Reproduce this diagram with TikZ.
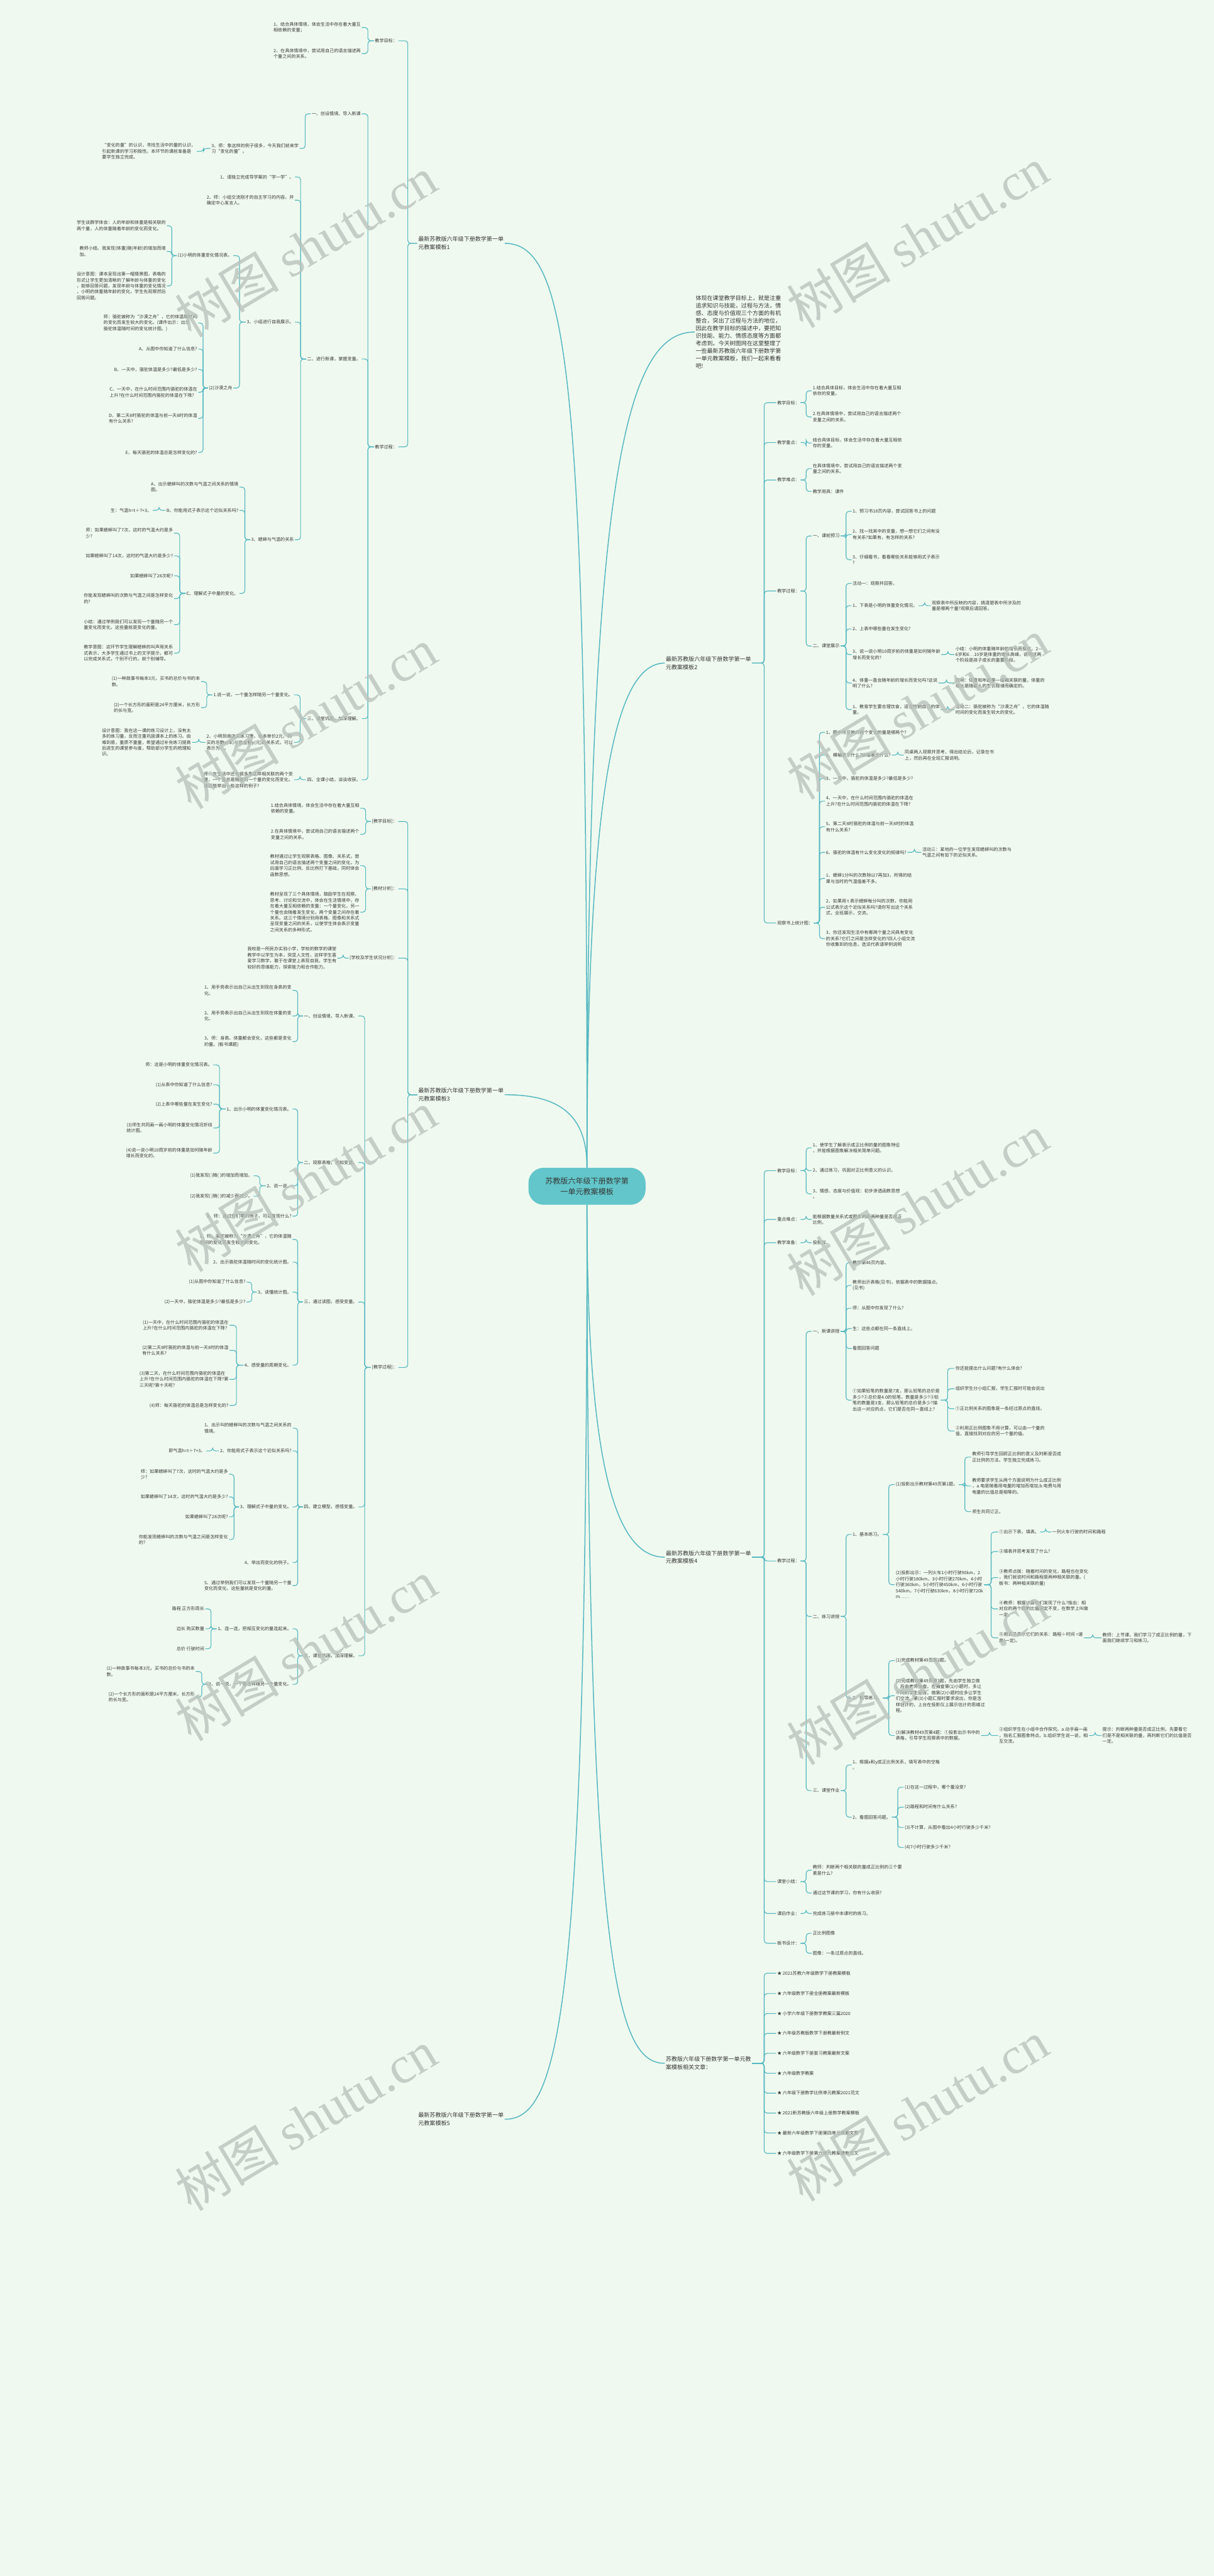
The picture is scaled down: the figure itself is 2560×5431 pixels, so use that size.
\documentclass[tikz,border=0pt]{standalone}
\usepackage{fontspec}
\setmainfont{Noto Sans CJK SC}
\newfontfamily\wmfont{Liberation Serif}
\usetikzlibrary{calc}
\definecolor{bg}{RGB}{240,249,239}
\definecolor{ln}{RGB}{84,184,193}
\definecolor{ctr}{RGB}{98,198,202}
\definecolor{tx}{RGB}{55,55,55}
\definecolor{wm}{RGB}{186,194,188}
\tikzset{
 every node/.style={inner sep=2pt, text=tx, align=left, font=\fontsize{9.4}{12.5}\selectfont},
 tR/.style={anchor=west},
 tL/.style={anchor=east},
 link/.style={draw=ln, line width=1.5pt, rounded corners=6pt},
 mainln/.style={draw=ln, line width=2pt},
 ttl/.style={font=\fontsize{12}{17}\selectfont},
 wmk/.style={rotate=31, text=wm, opacity=0.8, font=\fontsize{110}{110}\selectfont},
}
\newcommand\kR[5]{\node[tR] (#2) at (#3,#4) {#5}; \draw[link] (#1.east) -- ($(#1.east)!0.5!(#1.east-|#2.west)$) |- (#2.west);}
\newcommand\kL[5]{\node[tL] (#2) at (#3,#4) {#5}; \draw[link] (#1.west) -- ($(#1.west)!0.5!(#1.west-|#2.east)$) |- (#2.east);}
\begin{document}
\begin{tikzpicture}[x=1pt,y=-1pt]
\fill[bg] (0,0) rectangle (2560,5431);
\useasboundingbox (0,0) rectangle (2560,5431);

% center
\node[fill=ctr, rounded corners=32pt, minimum width=247pt, minimum height=78pt, align=center, font=\fontsize{16}{22}\selectfont] (c) at (1238,2501) {苏教版六年级下册数学第\\一单元教案模板};

% intro
\node[tR, font=\fontsize{12}{16}\selectfont] (intro) at (1465,700) {体现在课堂教学目标上，就是注重\\追求知识与技能，过程与方法，情\\感、态度与价值观三个方面的有机\\整合，突出了过程与方法的地位，\\因此在教学目标的描述中，要把知\\识技能、能力、情感态度等方面都\\考虑到。今天树图网在这里整理了\\一些最新苏教版六年级下册数学第\\一单元教案模板，我们一起来看看\\吧!};

% titles
\node[tR, ttl] (t1) at (880,513) {最新苏教版六年级下册数学第一单\\元教案模板1};
\node[tR, ttl] (t2) at (1402,1398) {最新苏教版六年级下册数学第一单\\元教案模板2};
\node[tR, ttl] (t3) at (880,2308) {最新苏教版六年级下册数学第一单\\元教案模板3};
\node[tR, ttl] (t4) at (1402,3283) {最新苏教版六年级下册数学第一单\\元教案模板4};
\node[tR, ttl] (rel) at (1402,4350) {苏教版六年级下册数学第一单元教\\案模板相关文章：};
\node[tR, ttl] (t5) at (880,4468) {最新苏教版六年级下册数学第一单\\元教案模板5};

\draw[mainln] (c.north) .. controls (1238,800) and (1200,513) .. (t1.east);
\draw[mainln] (c.north) .. controls (1238,1000) and (1320,700) .. (intro.west);
\draw[mainln] (c.north) .. controls (1238,1650) and (1300,1398) .. (t2.west);
\draw[mainln] (c.north) .. controls (1238,2350) and (1180,2308) .. (t3.east);
\draw[mainln] (c.south) .. controls (1238,3100) and (1300,3283) .. (t4.west);
\draw[mainln] (c.south) .. controls (1238,4150) and (1300,4350) .. (rel.west);
\draw[mainln] (c.south) .. controls (1238,4250) and (1180,4468) .. (t5.east);

% ===== tree 1 =====
\kL{t1}{a1}{840}{86}{教学目标：}
\kL{a1}{a11}{763}{58}{1、结合具体情境，体会生活中存在着大量互\\相依赖的变量；}
\kL{a1}{a12}{763}{113}{2、在具体情境中，尝试用自己的语言描述两\\个量之间的关系。}
\kL{t1}{a2}{840}{942}{教学过程：}
\kL{a2}{a21}{763}{240}{一、创设情境、导入新课}
\kL{a21}{a213}{632}{313}{3、师：象这样的例子很多，今天我们就来学\\习“变化的量”。}
\kL{a213}{a2131}{415}{319}{“变化的量”的认识，寻找生活中的量的认识，\\引起新课的学习积极性。本环节的课前准备是\\要学生独立完成。}
\kL{a2}{a22}{763}{757}{二、进行新课，掌握变量。}
\kL{a22}{a221}{622}{373}{1、请独立完成导学案的“学一学”。}
\kL{a22}{a222}{622}{422}{2、师：小组交流刚才的自主学习的内容。并\\确定中心发言人。}
\kL{a22}{a223}{622}{679}{3、小组进行自我展示。}
\kL{a223}{b1}{492}{539}{(1)小明的体重变化情况表。}
\kL{b1}{b11}{352}{476}{学生谈群学体会：人的年龄和体重是相关联的\\两个量，人的体重随着年龄的变化而变化。}
\kL{b1}{b12}{352}{530}{教师小结。我发现(体重)随(年龄)的增加而增\\加。}
\kL{b1}{b13}{352}{603}{设计意图：课本呈现出第一幅情景图，表格的\\形式让学生更加清晰的了解年龄与体重的变化\\，能够回答问题，发现年龄与体重的变化情况\\，小明的体重随年龄的变化，学生先观察然后\\回答问题。}
\kL{a223}{b2}{492}{818}{(2)沙漠之舟}
\kL{b2}{b21}{418}{681}{师：骆驼被称为“沙漠之舟”，它的体温随时间\\的变化而发生较大的变化。(课件出示：出示\\骆驼体温随时间的变化统计图。)}
\kL{b2}{b22}{418}{736}{A、从图中你知道了什么信息?}
\kL{b2}{b23}{418}{779}{B、一天中，骆驼体温是多少?最低是多少?}
\kL{b2}{b24}{418}{827}{C、一天中，在什么时间范围内骆驼的体温在\\上升?在什么时间范围内骆驼的体温在下降?}
\kL{b2}{b25}{418}{882}{D、第二天8时骆驼的体温与前一天8时的体温\\有什么关系?}
\kL{b2}{b26}{418}{954}{E、每天骆驼的体温总是怎样变化的?}
\kL{a22}{a224}{622}{1138}{3、蟋蟀与气温的关系}
\kL{a224}{b3}{505}{1027}{A、出示蟋蟀叫的次数与气温之间关系的情境\\图。}
\kL{a224}{b4}{505}{1076}{B、你能用式子表示这个近似关系吗?}
\kL{b4}{b41}{322}{1076}{生：气温h=t÷7+3。}
\kL{a224}{b5}{505}{1251}{C、理解式子中量的变化。}
\kL{b5}{b51}{367}{1124}{师：如果蟋蟀叫了7次，这时的气温大约是多\\少?}
\kL{b5}{b52}{367}{1172}{如果蟋蟀叫了14次，这时的气温大约是多少?}
\kL{b5}{b53}{367}{1214}{如果蟋蟀叫了28次呢?}
\kL{b5}{b54}{367}{1262}{你能发现蟋蟀叫的次数与气温之间是怎样变化\\的?}
\kL{b5}{b55}{367}{1317}{小结：通过举例我们可以发现一个量随另一个\\量变化而变化，这些量就是变化的量。}
\kL{b5}{b56}{367}{1377}{教学意图：这环节学生理解蟋蟀的叫声用关系\\式表示，大多学生通过书上的文字提示，都可\\以完成关系式，个别不行的，就个别辅导。}
\kL{a2}{a23}{763}{1515}{三、课堂巩固，加深理解。}
\kL{a23}{a231}{620}{1465}{1.说一说，一个量怎样随另一个量变化。}
\kL{a231}{b6}{424}{1437}{(1)一种故事书每本3元，买书的总价与书的本\\数。}
\kL{a231}{b7}{424}{1492}{(2)一个长方形的面积是24平方厘米，长方形\\的长与宽。}
\kL{a23}{a232}{620}{1565}{2、小明到商店买练习簿，每本单价2元，购\\买的总数x(本)与总金额y(元)的关系式，可以\\表示为：。}
\kL{a232}{b8}{405}{1565}{设计意图：我在这一课的练习设计上，没有太\\多的练习量，反而注重巩固课本上的练习。由\\难到易，重质不重量，希望通过补充练习提高\\后进生的课堂参与度，帮助部分学生的梳理知\\识。}
\kL{a2}{a24}{763}{1644}{四、全课小结，谈谈收获。}
\kL{a24}{a241}{620}{1644}{师：在生活中还有很多象这样相关联的两个变\\量，一个量总是随着另一个量的变化而变化，\\谁还能举出一些这样的例子?}

% ===== tree 3 =====
\kL{t3}{d1}{840}{1732}{[教学目标]：}
\kL{d1}{d11}{760}{1704}{1.结合具体情境，体会生活中存在着大量互相\\依赖的变量。}
\kL{d1}{d12}{760}{1759}{2.在具体情境中，尝试用自己的语言描述两个\\变量之间的关系。}
\kL{t3}{d2}{840}{1874}{[教材分析]：}
\kL{d2}{d21}{760}{1825}{教材通过让学生观察表格、图像、关系式，尝\\试用自己的语言描述两个变量之间的变化，为\\后面学习正比例、反比例打下基础，同时体会\\函数思想。}
\kL{d2}{d22}{760}{1923}{教材呈现了三个具体情境，鼓励学生在观察、\\思考、讨论和交流中，体会在生活情境中，存\\在着大量互相依赖的变量：一个量变化，另一\\个量也会随着发生变化，两个变量之间存在着\\关系。这三个情境分别用表格、图像和关系式\\呈现变量之间的关系，以使学生体会表示变量\\之间关系的多种形式。}
\kL{t3}{d3}{840}{2020}{[学校及学生状况分析]：}
\kL{d3}{d31}{712}{2020}{我校是一所民办实验小学，学校的数学的课堂\\教学中以学生为本，突显人文性，这样学生喜\\爱学习数学，敢于在课堂上表现自我，学生有\\较好的思维能力，探索能力和合作能力。}
\kL{t3}{d4}{840}{2883}{[教学过程]：}
\kL{d4}{e1}{756}{2142}{一、创设情境，导入新课。}
\kL{e1}{e11}{617}{2088}{1、用手势表示出自己从出生到现在身高的变\\化。}
\kL{e1}{e12}{617}{2142}{2、用手势表示出自己从出生到现在体重的变\\化。}
\kL{e1}{e13}{617}{2196}{3、师：身高、体重都会变化，这些都是变化\\的量。(板书课题)}
\kL{d4}{e2}{756}{2451}{二、观察表格，感知变量。}
\kL{e2}{e21}{617}{2338}{1、出示小明的体重变化情况表。}
\kL{e21}{e211}{450}{2245}{师：这是小明的体重变化情况表。}
\kL{e21}{e212}{450}{2287}{(1)从表中你知道了什么信息?}
\kL{e21}{e213}{450}{2328}{(2)上表中哪些量在发生变化?}
\kL{e21}{e214}{450}{2378}{(3)师生共同画一画小明的体重变化情况折线\\统计图。}
\kL{e21}{e215}{450}{2431}{(4)说一说小明10周岁前的体重是如何随年龄\\增长而变化的。}
\kL{e2}{e22}{617}{2500}{2、说一说。}
\kL{e22}{e221}{535}{2479}{(1)我发现( )随( )的增加而增加。}
\kL{e22}{e222}{535}{2522}{(2)我发现( )随( )的减少而减少。}
\kL{e2}{e23}{617}{2564}{3、师：通过你们举的例子，可以发现什么?}
\kL{d4}{e3}{756}{2745}{三、通过读图，感受变量。}
\kL{e3}{e31}{617}{2613}{1、师：骆驼被称为“沙漠之舟”，它的体温随\\时间的变化而发生较大的变化。}
\kL{e3}{e32}{617}{2661}{2、出示骆驼体温随时间的变化统计图。}
\kL{e3}{e33}{617}{2724}{3、读懂统计图。}
\kL{e33}{e331}{520}{2703}{(1)从图中你知道了什么信息?}
\kL{e33}{e332}{520}{2745}{(2)一天中，骆驼体温是多少?最低是多少?}
\kL{e3}{e34}{617}{2878}{4、感受量的周期变化。}
\kL{e34}{e341}{484}{2794}{(1)一天中，在什么时间范围内骆驼的体温在\\上升?在什么时间范围内骆驼的体温在下降?}
\kL{e34}{e342}{484}{2847}{(2)第二天8时骆驼的体温与前一天8时的体温\\有什么关系?}
\kL{e34}{e343}{484}{2908}{(3)第二天，在什么时间范围内骆驼的体温在\\上升?在什么时间范围内骆驼的体温在下降?第\\三天呢?第十天呢?}
\kL{e34}{e344}{484}{2963}{(4)师：每天骆驼的体温总是怎样变化的?}
\kL{d4}{e4}{756}{3177}{四、建立模型，感悟变量。}
\kL{e4}{e41}{617}{3011}{1、出示叫的蟋蟀叫的次数与气温之间关系的\\情境。}
\kL{e4}{e42}{617}{3059}{2、你能用式子表示这个近似关系吗?}
\kL{e42}{e421}{435}{3059}{即气温h=t÷7+3。}
\kL{e4}{e43}{617}{3177}{3、理解式子中量的变化。}
\kL{e43}{e431}{483}{3108}{师：如果蟋蟀叫了7次，这时的气温大约是多\\少?}
\kL{e43}{e432}{483}{3156}{如果蟋蟀叫了14次，这时的气温大约是多少?}
\kL{e43}{e433}{483}{3198}{如果蟋蟀叫了28次呢?}
\kL{e43}{e434}{483}{3246}{你能发现蟋蟀叫的次数与气温之间是怎样变化\\的?}
\kL{e4}{e44}{617}{3294}{4、举出而变化的例子。}
\kL{e4}{e45}{617}{3343}{5、通过举例我们可以发现一个量随另一个量\\变化而变化，这些量就是变化的量。}
\kL{d4}{e5}{756}{3491}{五、课堂巩固，加深理解。}
\kL{e5}{e51}{617}{3434}{1、连一连，把相互变化的量连起来。}
\kL{e51}{e511}{433}{3392}{路程 正方形周长}
\kL{e51}{e512}{433}{3434}{边长 购买数量}
\kL{e51}{e513}{433}{3476}{总价 行驶时间}
\kL{e5}{e52}{617}{3551}{2、说一说，一个量怎样随另一个量变化。}
\kL{e52}{e521}{413}{3524}{(1)一种故事书每本3元，买书的总价与书的本\\数。}
\kL{e52}{e522}{413}{3578}{(2)一个长方形的面积是24平方厘米，长方形\\的长与宽。}

% ===== tree 2 =====
\kR{t2}{f1}{1637}{849}{教学目标：}
\kR{f1}{f11}{1712}{824}{1.结合具体目标，体会生活中存在着大量互相\\依存的变量。}
\kR{f1}{f12}{1712}{879}{2.在具体情境中，尝试用自己的语言描述两个\\变量之间的关系。}
\kR{t2}{f2}{1637}{933}{教学重点：}
\kR{f2}{f21}{1712}{934}{结合具体目标，体会生活中存在着大量互相依\\存的变量。}
\kR{t2}{f3}{1637}{1012}{教学难点：}
\kR{f3}{f31}{1712}{988}{在具体情境中，尝试用自己的语言描述两个变\\量之间的关系。}
\kR{f3}{f32}{1712}{1036}{教学用具：课件}
\kR{t2}{f4}{1637}{1246}{教学过程：}
\kR{f4}{g1}{1712}{1130}{一、课前预习}
\kR{g1}{g11}{1796}{1078}{1、预习书18页内容，尝试回答书上的问题}
\kR{g1}{g12}{1796}{1127}{2、找一找其中的变量，想一想它们之间有没\\有关系?如果有，有怎样的关系?}
\kR{g1}{g13}{1796}{1180}{3、仔细看书，看看哪些关系能够用式子表示\\?}
\kR{f4}{g2}{1712}{1362}{二、课堂展示}
\kR{g2}{g21}{1796}{1230}{活动一：观察并回答。}
\kR{g2}{g22}{1796}{1277}{1、下表是小明的体重变化情况。}
\kR{g22}{g221}{1963}{1277}{观察表中所反映的内容，搞清楚表中所涉及的\\量是哪两个量?观察后请回答。}
\kR{g2}{g23}{1796}{1326}{2、上表中哪些量在发生变化?}
\kR{g2}{g24}{1796}{1380}{3、说一说小明10周岁前的体重是如何随年龄\\增长而变化的?}
\kR{g24}{g241}{2013}{1380}{小结：小明的体重随年龄的增长而变化。2—\\6岁和6…10岁是体重的增长高峰，说明这两\\个阶段是孩子成长的重要阶段。}
\kR{g2}{g25}{1796}{1440}{4、体重一直会随年龄的增长而变化吗?这说\\明了什么?}
\kR{g25}{g251}{2013}{1440}{说明：体重和年龄是一组相关联的量。体重的\\增长是随着人的生长规律而确定的。}
\kR{g2}{g26}{1796}{1496}{1、教育学生要合理饮食，适当控制自己的体\\重。}
\kR{g26}{g261}{2013}{1496}{活动二：骆驼被称为“沙漠之舟”，它的体温随\\时间的变化而发生较大的变化。}
\kR{t2}{f5}{1637}{1946}{观察书上统计图：}
\kR{f5}{h1}{1740}{1544}{1、图中所反映的两个变化的量是哪两个?}
\kR{f5}{h2}{1740}{1592}{2、横轴表示什么?纵轴表示什么?}
\kR{h2}{h21}{1906}{1592}{同桌两人观察并思考，得出结论后，记录在书\\上，然后再在全班汇报说明。}
\kR{f5}{h3}{1740}{1641}{3、一天中，骆驼的体温是多少?最低是多少?}
\kR{f5}{h4}{1740}{1689}{4、一天中，在什么时间范围内骆驼的体温在\\上升?在什么时间范围内骆驼的体温在下降?}
\kR{f5}{h5}{1740}{1743}{5、第二天8时骆驼的体温与前一天8时的体温\\有什么关系?}
\kR{f5}{h6}{1740}{1797}{6、骆驼的体温有什么变化变化的规律吗?}
\kR{h6}{h61}{1943}{1797}{活动三：某地的一位学生发现蟋蟀叫的次数与\\气温之间有如下的近似关系。}
\kR{f5}{h7}{1740}{1852}{1、蟋蟀1分叫的次数除以7再加3，所得的结\\果与当时的气温值差不多。}
\kR{f5}{h8}{1740}{1913}{2、如果用 t 表示蟋蟀每分叫的次数，你能用\\公式表示这个近似关系吗?请你写出这个关系\\式，全班展示，交流。}
\kR{f5}{h9}{1740}{1979}{3、你还发现生活中有哪两个量之间具有变化\\的关系?它们之间是怎样变化的?四人小组交流\\你收集到的信息，选派代表请举例说明}

% ===== tree 4 =====
\kR{t4}{p1}{1637}{2468}{教学目标：}
\kR{p1}{p11}{1712}{2420}{1、使学生了解表示成正比例的量的图象特征\\，并能根据图象解决相关简单问题。}
\kR{p1}{p12}{1712}{2468}{2、通过练习，巩固对正比例意义的认识。}
\kR{p1}{p13}{1712}{2517}{3、情感、态度与价值观：初步渗透函数思想\\。}
\kR{t4}{p2}{1637}{2571}{重点难点：}
\kR{p2}{p21}{1712}{2571}{能根据数量关系式或图象判断两种量是否成正\\比例。}
\kR{t4}{p3}{1637}{2620}{教学准备：}
\kR{p3}{p31}{1712}{2620}{投影仪。}
\kR{t4}{p4}{1637}{3291}{教学过程：}
\kR{p4}{q1}{1712}{2807}{一、新课讲授}
\kR{q1}{q11}{1796}{2662}{教学第46页内容。}
\kR{q1}{q12}{1796}{2710}{教师出示表格(见书)，依据表中的数据描点。\\(见书)}
\kR{q1}{q13}{1796}{2758}{师：从图中你发现了什么?}
\kR{q1}{q14}{1796}{2801}{生：这些点都在同一条直线上。}
\kR{q1}{q15}{1796}{2843}{看图回答问题}
\kR{q1}{q16}{1796}{2952}{①如果铅笔的数量是7支，那么铅笔的总价是\\多少?②总价是4.0的铅笔，数量是多少?③铅\\笔的数量是3支，那么铅笔的总价是多少?描\\出这一对应的点，它们是否在同一直线上?}
\kR{q16}{q161}{2013}{2885}{你还能提出什么问题?有什么体会?}
\kR{q16}{q162}{2013}{2928}{组织学生分小组汇报，学生汇报时可能会说出}
\kR{q16}{q163}{2013}{2970}{①正比例关系的图象是一条经过原点的直线。}
\kR{q16}{q164}{2013}{3017}{②利用正比例图象不用计算，可以由一个量的\\值，直接找到对应的另一个量的值。}
\kR{p4}{q2}{1712}{3408}{二、练习讲授}
\kR{q2}{q21}{1796}{3235}{1、基本练习。}
\kR{q21}{r1}{1887}{3130}{(1)投影出示教材第49页第1题。}
\kR{r1}{r11}{2048}{3072}{教师引导学生回顾正比例的意义及判断是否成\\正比例的方法。学生独立完成练习。}
\kR{r1}{r12}{2048}{3133}{教师要求学生从两个方面说明为什么成正比例\\，a.电是随着用电量的增加而增加;b.电费与用\\电量的比值总是相等的。}
\kR{r1}{r13}{2048}{3187}{师生共同订正。}
\kR{q21}{r2}{1887}{3341}{(2)投影出示：一列火车1小时行驶90km，2\\小时行驶180km，3小时行驶270km，4小时\\行驶360km，5小时行驶450km，6小时行驶\\540km，7小时行驶630km，8小时行驶720k\\m……}
\kR{r2}{r21}{2105}{3230}{①出示下表，填表。}
\kR{r21}{r211}{2217}{3230}{一列火车行驶的时间和路程}
\kR{r2}{r22}{2105}{3271}{②填表并思考发现了什么?}
\kR{r2}{r23}{2105}{3326}{③教师点拨：随着时间的变化，路程也在变化\\，我们就说时间和路程是两种相关联的量。(\\板书：两种相关联的量)}
\kR{r2}{r24}{2105}{3392}{④教师：根据计算你们发现了什么?指出：相\\对应的两个数的比值固定不变，在数学上叫做\\一定。}
\kR{r2}{r25}{2105}{3453}{⑤用式子表示它们的关系：路程÷时间 =速\\度(一定)。}
\kR{r25}{r251}{2323}{3453}{教师：上节课，我们学习了成正比例的量，下\\面我们继续学习和练习。}
\kR{q2}{q22}{1796}{3580}{2、指导练习。}
\kR{q22}{r3}{1887}{3501}{(1)完成教材第49页第2题。}
\kR{q22}{r4}{1887}{3575}{(2)完成教材第49页第3题，先由学生独立做\\，后由老师抽查。在抽查第(1)小题时，多让\\不同的学生回答。做第(2)小题时应多让学生\\们交流。第(3)小题汇报时要求说出，你是怎\\样估计的，上台在投影仪上展示估计的思维过\\程。}
\kR{q22}{r5}{1887}{3659}{(3)解决教材49页第4题：①投影出示书中的\\表格，引导学生观察表中的数据。}
\kR{r5}{r51}{2105}{3659}{②组织学生在小组中合作探究。a.动手画一画\\，指名汇报图象特点。b.组织学生说一说，相\\互交流。}
\kR{r51}{r511}{2323}{3659}{提示：判断两种量是否成正比例，先要看它\\们是不是相关联的量，再判断它们的比值是否\\一定。}
\kR{p4}{q3}{1712}{3775}{三、课堂作业}
\kR{q3}{q31}{1796}{3721}{1、根据x和y成正比例关系，填写表中的空格\\。}
\kR{q3}{q32}{1796}{3831}{2、看图回答问题。}
\kR{q32}{q321}{1906}{3768}{(1)在这一过程中，哪个量没变?}
\kR{q32}{q322}{1906}{3810}{(2)路程和时间有什么关系?}
\kR{q32}{q323}{1906}{3853}{(3)不计算，从图中看出4小时行驶多少千米?}
\kR{q32}{q324}{1906}{3895}{(4)7小时行驶多少千米?}
\kR{t4}{p5}{1637}{3967}{课堂小结：}
\kR{p5}{p51}{1712}{3943}{教师：判断两个相关联的量成正比例的三个要\\素是什么?}
\kR{p5}{p52}{1712}{3991}{通过这节课的学习，你有什么收获?}
\kR{t4}{p6}{1637}{4034}{课后作业：}
\kR{p6}{p61}{1712}{4034}{完成练习册中本课时的练习。}
\kR{t4}{p7}{1637}{4097}{板书设计：}
\kR{p7}{p71}{1712}{4076}{正比例图像}
\kR{p7}{p72}{1712}{4118}{图像：一条过原点的直线。}

% ===== related =====
\kR{rel}{s1}{1637}{4160}{★ 2021苏教六年级数学下册教案模板}
\kR{rel}{s2}{1637}{4203}{★ 六年级数学下册全册教案最新模板}
\kR{rel}{s3}{1637}{4245}{★ 小学六年级下册数学教案三篇2020}
\kR{rel}{s4}{1637}{4287}{★ 六年级苏教版数学下册教最新例文}
\kR{rel}{s5}{1637}{4329}{★ 六年级数学下册复习教案最新文案}
\kR{rel}{s6}{1637}{4371}{★ 六年级数学教案}
\kR{rel}{s7}{1637}{4413}{★ 六年级下册数学比例单元教案2021范文}
\kR{rel}{s8}{1637}{4455}{★ 2021新苏教版六年级上册数学教案模板}
\kR{rel}{s9}{1637}{4497}{★ 最新六年级数学下册第四单元教案文案}
\kR{rel}{s10}{1637}{4540}{★ 六年级数学下册第六单元教案最新范文}

% watermarks
\foreach \yy in {520,1515,2490,3480,4470} {\node[wmk] at (645,\yy) {树图 {\wmfont shutu.cn}};}
\foreach \yy in {500,1495,2540,3530,4450} {\node[wmk] at (1935,\yy) {树图 {\wmfont shutu.cn}};}
\end{tikzpicture}
\end{document}
